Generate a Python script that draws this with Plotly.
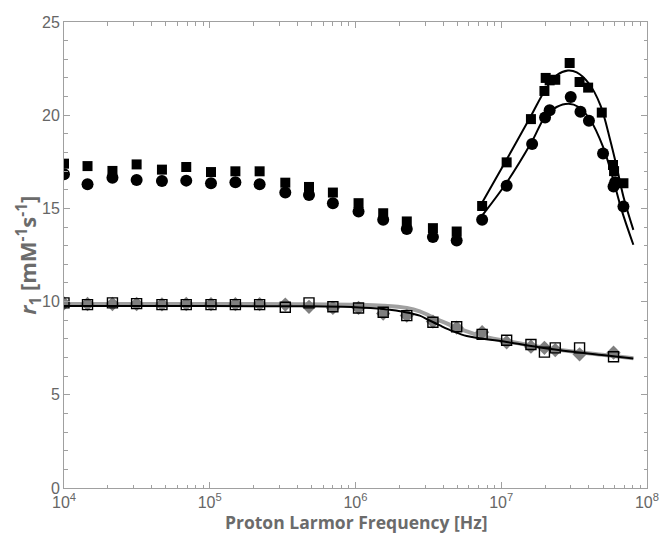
import plotly.graph_objects as go

# ---- measured relaxivities (frequency in Hz, r1 in mM^-1 s^-1) ----
freq_low = [1.0e4, 1.45e4, 2.15e4, 3.15e4, 4.7e4, 6.9e4, 1.02e5, 1.5e5, 2.2e5,
            3.3e5, 4.8e5, 7.0e5, 1.05e6, 1.55e6, 2.25e6, 3.4e6, 4.95e6]

# filled squares
sq_freq_high = [7.4e6, 1.09e7, 1.6e7, 1.98e7, 2.02e7, 2.15e7, 2.35e7, 2.95e7,
                3.45e7, 3.95e7, 4.9e7, 5.85e7, 5.95e7, 6.9e7]
sq_low = [17.40, 17.27, 17.01, 17.36, 17.08, 17.22, 16.95, 16.99, 16.99,
          16.38, 16.15, 15.85, 15.28, 14.74, 14.30, 13.94, 13.76]
sq_high = [15.13, 17.47, 19.79, 21.30, 22.00, 21.87, 21.90, 22.80,
           21.78, 21.48, 20.14, 17.33, 17.00, 16.35]

# filled circles
ci_freq_high = [7.4e6, 1.09e7, 1.63e7, 2.0e7, 2.15e7, 3.0e7, 3.5e7, 4.0e7,
                5.0e7, 5.9e7, 6.05e7, 6.9e7]
ci_low = [16.83, 16.29, 16.65, 16.52, 16.47, 16.49, 16.35, 16.40, 16.29,
          15.85, 15.72, 15.28, 14.83, 14.39, 13.89, 13.46, 13.28]
ci_high = [14.39, 16.22, 18.45, 19.88, 20.27, 20.98, 20.18, 19.70,
           17.95, 16.17, 16.40, 15.10]

# lower pair: grey diamonds and open squares
lo_freq = freq_low + [7.4e6, 1.09e7, 1.6e7, 1.98e7, 2.35e7, 3.45e7, 5.9e7]
open_sq = [9.93, 9.84, 9.93, 9.89, 9.84, 9.84, 9.84, 9.84, 9.84, 9.70, 9.93,
           9.72, 9.66, 9.43, 9.25, 8.89, 8.65, 8.24, 7.93, 7.70, 7.29, 7.52,
           7.52, 7.04]
diamonds = [9.90, 9.87, 9.87, 9.87, 9.85, 9.87, 9.86, 9.86, 9.86, 9.84, 9.72,
            9.66, 9.66, 9.36, 9.25, 8.93, 8.60, 8.36, 7.82, 7.58, 7.52, 7.40,
            7.17, 7.26]

# ---- fitted profiles ----
fit_sq_freq = [7.46e6, 1.1e7, 1.61e7, 2.0e7, 2.4e7, 2.87e7, 3.3e7, 4.0e7,
               4.8e7, 5.6e7, 6.2e7, 6.9e7, 8.07e7]
fit_sq = [15.36, 17.68, 20.00, 21.34, 22.14, 22.40, 22.30, 21.70,
          20.53, 18.66, 17.24, 15.63, 13.85]

fit_ci_freq = [7.46e6, 1.1e7, 1.62e7, 2.0e7, 2.4e7, 2.9e7, 3.4e7, 4.1e7,
               5.0e7, 5.8e7, 6.7e7, 8.07e7]
fit_ci = [14.65, 16.43, 18.57, 19.91, 20.44, 20.62, 20.44, 19.73,
          18.30, 16.70, 14.92, 13.05]

fit_lo_freq = [1.0e4, 1.0e5, 4.1e5, 1.0e6, 1.55e6, 2.25e6, 2.76e6, 3.2e6,
               3.8e6, 4.7e6, 5.8e6, 7.1e6, 1.09e7, 1.85e7, 3.1e7, 5.3e7, 8.07e7]
fit_black = [9.76, 9.76, 9.75, 9.70, 9.60, 9.42, 9.25, 9.00,
             8.72, 8.40, 8.15, 8.03, 7.83, 7.54, 7.31, 7.11, 6.95]
fit_grey = [9.87, 9.87, 9.86, 9.83, 9.78, 9.66, 9.48, 9.25,
            8.98, 8.68, 8.40, 8.17, 7.88, 7.57, 7.32, 7.12, 6.96]

# axis labels
x_tick_vals = [1e4, 1e5, 1e6, 1e7, 1e8]
x_tick_text = ["10<sup>4</sup>", "10<sup>5</sup>", "10<sup>6</sup>",
               "10<sup>7</sup>", "10<sup>8</sup>"]

# ---- figure ----
fig = go.Figure()

fig.add_trace(go.Scatter(x=fit_lo_freq, y=fit_grey, mode="lines",
                         line=dict(color="#a0a0a0", width=4, shape="spline"),
                         hoverinfo="skip"))
fig.add_trace(go.Scatter(x=lo_freq, y=diamonds, mode="markers",
                         marker=dict(symbol="diamond", size=11, color="#7f7f7f")))
fig.add_trace(go.Scatter(x=fit_lo_freq, y=fit_black, mode="lines",
                         line=dict(color="black", width=2, shape="spline"),
                         hoverinfo="skip"))
fig.add_trace(go.Scatter(x=lo_freq, y=open_sq, mode="markers",
                         marker=dict(symbol="square-open", size=10, color="black",
                                     line=dict(width=1.4, color="black"))))

fig.add_trace(go.Scatter(x=fit_sq_freq, y=fit_sq, mode="lines",
                         line=dict(color="black", width=2, shape="spline"),
                         hoverinfo="skip"))
fig.add_trace(go.Scatter(x=fit_ci_freq, y=fit_ci, mode="lines",
                         line=dict(color="black", width=2, shape="spline"),
                         hoverinfo="skip"))
fig.add_trace(go.Scatter(x=freq_low + sq_freq_high, y=sq_low + sq_high,
                         mode="markers",
                         marker=dict(symbol="square", size=10, color="black")))
fig.add_trace(go.Scatter(x=freq_low + ci_freq_high, y=ci_low + ci_high,
                         mode="markers",
                         marker=dict(symbol="circle", size=12, color="black")))

minor_x = [k * 10 ** d for d in range(4, 8) for k in range(2, 10)]
frame = "#a0a0a0"
tick_font = dict(family="Liberation Sans, Arial, sans-serif", size=16, color="#666666")

fig.update_layout(
    width=660, height=545,
    margin=dict(l=64, r=13, t=22, b=57),
    paper_bgcolor="white", plot_bgcolor="white",
    showlegend=False,
    xaxis=dict(type="log", range=[4, 8.0005], showgrid=False, zeroline=False,
               automargin=False,
               showline=True, linecolor=frame, linewidth=1, mirror="allticks",
               ticks="inside", ticklen=6, tickcolor=frame,
               tickvals=x_tick_vals, ticktext=x_tick_text,
               tickfont=tick_font,
               minor=dict(tickvals=minor_x, ticks="inside", ticklen=3.5,
                          tickcolor=frame, showgrid=False)),
    yaxis=dict(range=[0, 25], showgrid=False, zeroline=False,
               automargin=False,
               showline=True, linecolor=frame, linewidth=1, mirror="allticks",
               ticks="inside", ticklen=6, tickcolor=frame, dtick=5,
               tickfont=tick_font,
               minor=dict(dtick=1, ticks="inside", ticklen=3.5,
                          tickcolor=frame, showgrid=False)),
    annotations=[
        dict(text="<b>Proton Larmor Frequency [Hz]</b>", xref="paper", yref="paper",
             x=0.5, y=-0.073, xanchor="center", yanchor="middle", showarrow=False,
             font=dict(family="Open Sans, sans-serif", size=17.5, color="#6b6b6b")),
        dict(text="<b><i>r</i><sub>1</sub> [mM<sup>-1</sup>s<sup>-1</sup>]</b>",
             xref="paper", yref="paper", x=-0.062, y=0.5, textangle=-90,
             xanchor="center", yanchor="middle", showarrow=False,
             font=dict(family="Open Sans, sans-serif", size=22, color="#6b6b6b")),
    ],
)

fig.write_html("out.html")
